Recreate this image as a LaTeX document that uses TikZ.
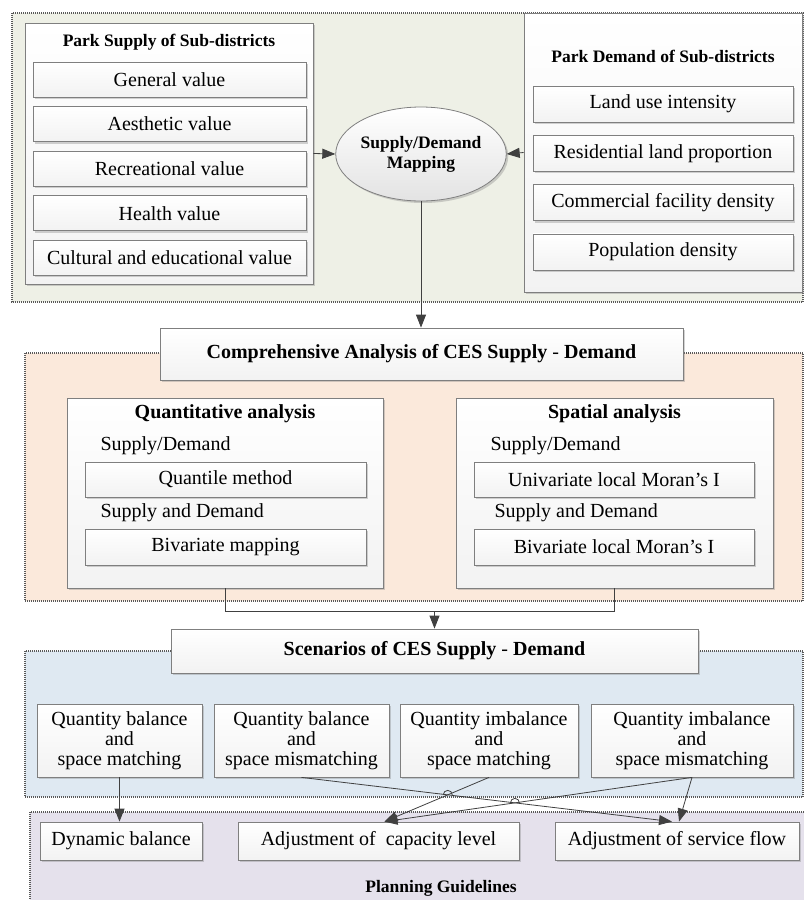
\documentclass[tikz,border=0pt]{standalone}
\usepackage{fontspec}
\setmainfont{Liberation Serif}
\usepackage{tikz}
\usetikzlibrary{arrows.meta,shadows,intersections,shapes.geometric}

\definecolor{zoneGreen}{HTML}{EEF0E6}
\definecolor{zoneOrange}{HTML}{FBE9DB}
\definecolor{zoneBlue}{HTML}{DFE9F2}
\definecolor{zonePurple}{HTML}{E5E1EC}
\definecolor{edgeGray}{HTML}{7F7F7F}
\definecolor{lineGray}{HTML}{404040}

\begin{document}
\begin{tikzpicture}[
    x=1pt, y=-1pt,
    font=\fontsize{20}{20}\selectfont,
    % frames of the four stages
    zoneline/.style={draw=gray!70!black, line width=1.2pt, dash pattern=on 1pt off 1pt},
    % boxes
    panel/.style={rectangle, draw=edgeGray, line width=0.8pt, top color=white, bottom color=gray!10,
                  drop shadow={shadow xshift=2pt, shadow yshift=-2pt, opacity=0.35, fill=gray},
                  inner sep=0pt},
    item/.style={panel, minimum height=35},
    mapping/.style={ellipse, draw=edgeGray, line width=0.8pt, top color=white, bottom color=gray!22,
                  drop shadow={shadow xshift=2pt, shadow yshift=-2pt, opacity=0.35, fill=gray},
                  minimum width=162, minimum height=94, inner sep=0pt, align=center,
                  font=\fontsize{17.5}{20}\selectfont\bfseries},
    head/.style={font=\fontsize{17.5}{17.5}\selectfont\bfseries, align=center},
    bighead/.style={font=\fontsize{20}{20}\selectfont\bfseries},
    sub/.style={anchor=west},
    link/.style={draw=lineGray, line width=0.8pt},
    arr/.style={link, -{Triangle[length=13pt,width=10pt]}},
]
\useasboundingbox (0,0) rectangle (804,900);

% -------------------------
% Stage backgrounds
% -------------------------
\fill[zoneGreen]  (12,13)  rectangle (803,302);
\draw[zoneline]   (12,13)  rectangle (803,302);
\fill[zoneOrange] (25,353) rectangle (803,601);
\draw[zoneline]   (25,353) rectangle (803,601);
\fill[zoneBlue]   (25,651) rectangle (803,797);
\draw[zoneline]   (25,651) rectangle (803,797);
\fill[zonePurple] (30,812) rectangle (804,900);
\draw[zoneline]   (804,812) -- (30,812) -- (30,900);

% -------------------------
% Supply and demand of sub-districts
% -------------------------
\node[panel, minimum width=288, minimum height=261] (supply) at (169,153.5) {};
\node[head] (supplyT) at (169,42) {Park Supply of Sub-districts};
\foreach \t [count=\i] in {General value, Aesthetic value, Recreational value,
                           Health value, Cultural and educational value}{
  \node[item, minimum width=273] (sup\i) at (169.5,{79.5+44.6*(\i-1)}) {\t};
}

\node[panel, minimum width=278, minimum height=279] (demand) at (663,152.5) {};
\node[head] (demandT) at (663,56) {Park Demand of Sub-districts};
\foreach \t [count=\i] in {Land use intensity, Residential land proportion,
                           Commercial facility density, Population density}{
  \node[item, minimum width=260, minimum height=36] (dem\i) at (663,{104+49.3*(\i-1)}) {\t};
}

\node[mapping] (map) at (421,154) {Supply/Demand\\Mapping};

\draw[arr] (supply.east) -- (map.west);
\draw[arr] (demand.west) -- (map.east);

% -------------------------
% Comprehensive analysis
% -------------------------
\node[panel, bighead, minimum width=523, minimum height=52] (comp) at (421.5,354)
  {Comprehensive Analysis of CES Supply {\mdseries -} Demand};
\draw[arr] (map.south) -- (map.south |- comp.north);

\node[panel, minimum width=316, minimum height=190] (quant) at (225,493) {};
\node[bighead] (quantT) at (225,414) {Quantitative analysis};
\node[sub] (quantA) at (97,446) {Supply/Demand};
\node[item, minimum width=281] (quantile) at (225.5,479.5) {Quantile method};
\node[sub] (quantB) at (97,513) {Supply and Demand};
\node[item, minimum width=281, minimum height=36] (bimap) at (225.5,547) {Bivariate mapping};

\node[panel, minimum width=317, minimum height=190] (spat) at (614.5,493) {};
\node[bighead] (spatT) at (614.5,414) {Spatial analysis};
\node[sub] (spatA) at (487,446) {Supply/Demand};
\node[item, minimum width=280] (unimoran) at (614,479.5) {Univariate local Moran’s I};
\node[sub] (spatB) at (491,513) {Supply and Demand};
\node[item, minimum width=280, minimum height=36] (bimoran) at (614,547) {Bivariate local Moran’s I};

% -------------------------
% Scenarios
% -------------------------
\node[panel, bighead, minimum width=527, minimum height=44] (scen) at (434.5,651)
  {Scenarios of CES Supply {\mdseries -} Demand};

\draw[link] (quant.south) -- ++(0,23) -| (spat.south);
\coordinate (anaJoin) at (434.5,611);
\draw[arr] (anaJoin) -- (scen.north);

\foreach \n/\x/\w/\t in {s1/119.5/165/{Quantity balance\\and\\space matching},
                         s2/301.5/175/{Quantity balance\\and\\space mismatching},
                         s3/489/178/{Quantity imbalance\\and\\space matching},
                         s4/692/202/{Quantity imbalance\\and\\space mismatching}}{
  \node[item, minimum width=\w, minimum height=73, align=center] (\n) at (\x,740.5) {\t};
}

% -------------------------
% Planning guidelines
% -------------------------
\node[item, minimum width=162, minimum height=38] (dyn)  at (121,841)   {Dynamic balance};
\node[item, minimum width=281, minimum height=38] (cap)  at (378.5,841) {Adjustment of\ \ capacity level};
\node[item, minimum width=244, minimum height=38] (flow) at (677,841)   {Adjustment of service flow};
\node[head] (planT) at (441,888) {Planning Guidelines};

\draw[arr] (s1.south) -- (s1.south |- dyn.north);
\draw[arr, name path=p2] (s2.south) -- ([xshift=-5pt]flow.north);
\draw[arr, name path=p3] (s3.south) -- ([xshift=6pt]cap.north);
\draw[arr, name path=p4] (s4.south) -- ([xshift=6pt]cap.north);
\draw[arr] (s4.south) -- ([xshift=2pt]flow.north);

% line hops
\path[name intersections={of=p2 and p3, by=hop1}];
\path[name intersections={of=p2 and p4, by=hop2}];
\foreach \h in {hop1,hop2}{
  \draw[link] ([xshift=-4.5pt]\h) arc[start angle=180, end angle=360, radius=4.5];
}

\end{tikzpicture}
\end{document}
